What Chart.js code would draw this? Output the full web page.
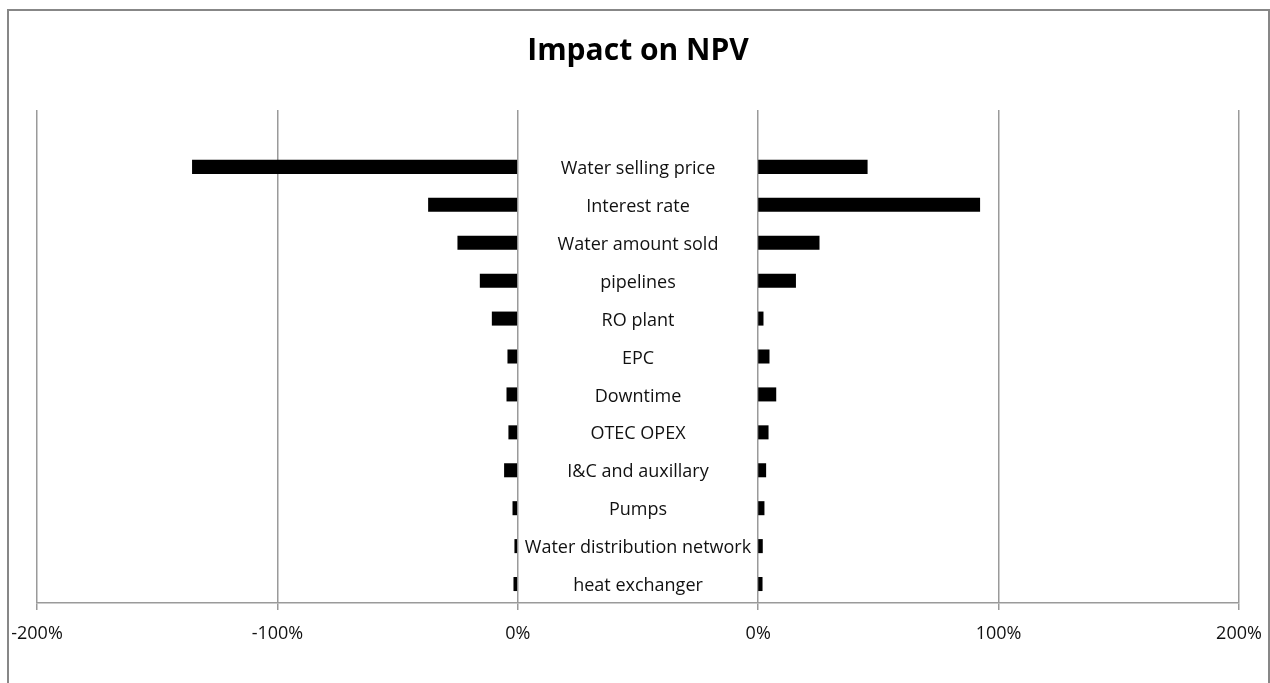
<!DOCTYPE html>
<html>
<head>
<meta charset="utf-8">
<script src="https://cdn.jsdelivr.net/npm/chart.js@4/dist/chart.umd.min.js"></script>
<style>
    html, body { margin: 0; padding: 0; background: #fff; }
    #wrap { position: relative; width: 1270px; height: 683px; overflow: hidden; }
    #frame {
        position: absolute; left: 7px; top: 9px; width: 1259px; height: 700px;
        border: 2px solid #878787; pointer-events: none;
    }
    canvas { position: absolute; left: 0; top: 0; }
</style>
</head>
<body>
<div id="wrap">
    <div id="frame"></div>
    <canvas id="npvChart" width="1270" height="683"></canvas>
</div>
<script>
// Sensitivity of NPV, one row per input (top to bottom)
const categories = [
    'Water selling price',
    'Interest rate',
    'Water amount sold',
    'pipelines',
    'RO plant',
    'EPC',
    'Downtime',
    'OTEC OPEX',
    'I&C and auxillary',
    'Pumps',
    'Water distribution network',
    'heat exchanger'
];

// left panel (%), negative impact
const lowValues = [-135.5, -37.3, -25.1, -15.8, -10.8, -4.3, -4.7, -3.9, -5.7, -2.2, -1.4, -1.8];
// right panel (%), positive impact
const highValues = [45.5, 92.3, 25.5, 15.7, 2.2, 4.7, 7.5, 4.3, 3.3, 2.6, 1.9, 1.8];

const tickLabels = ['-200%', '-100%', '0%', '0%', '100%', '200%'];

const FONT = '"Open Sans", "Noto Sans", sans-serif';

// top row of the plot is left empty, as in the sheet
const rowLabels = [''].concat(categories);

// draws the input names in the gap between the two panels
const centerLabels = {
    id: 'centerLabels',
    afterDatasetsDraw(chart) {
        const { ctx, scales } = chart;
        const cx = (scales.xL.getPixelForValue(0) + scales.xR.getPixelForValue(0)) / 2;
        ctx.save();
        ctx.font = '18px ' + FONT;
        ctx.fillStyle = '#111';
        ctx.textAlign = 'center';
        ctx.textBaseline = 'middle';
        categories.forEach((name, i) => {
            ctx.fillText(name, cx, scales.y.getPixelForValue(i + 1) + 2);
        });
        ctx.restore();
    }
};

const ctx = document.getElementById('npvChart').getContext('2d');
new Chart(ctx, {
    type: 'bar',
    data: {
        labels: rowLabels,
        datasets: [
            {
                label: 'low',
                data: [null].concat(lowValues),
                xAxisID: 'xL',
                backgroundColor: '#000',
                grouped: false,
                barPercentage: 0.37,
                categoryPercentage: 1
            },
            {
                label: 'high',
                data: [null].concat(highValues),
                xAxisID: 'xR',
                backgroundColor: '#000',
                grouped: false,
                barPercentage: 0.37,
                categoryPercentage: 1
            }
        ]
    },
    options: {
        indexAxis: 'y',
        responsive: false,
        animation: false,
        layout: {
            padding: { left: 37, right: 31, top: 10, bottom: 0 }
        },
        scales: {
            y: {
                display: false
            },
            xL: {
                type: 'linear',
                position: 'bottom',
                min: -200,
                max: 300,
                afterBuildTicks: s => {
                    s.ticks = [-200, -100, 0, 100, 200, 300].map(v => ({ value: v }));
                },
                afterFit: s => {
                    s.height = 80;
                    s.paddingLeft = 0;
                    s.paddingRight = 0;
                },
                grid: {
                    color: '#9a9a9a',
                    lineWidth: 1.5,
                    tickLength: 7,
                    tickColor: '#9a9a9a'
                },
                border: { color: '#9a9a9a', width: 1.5 },
                ticks: {
                    padding: 13,
                    color: '#111',
                    font: { family: FONT, size: 18 },
                    callback: (v, i) => tickLabels[i]
                }
            },
            xR: {
                type: 'linear',
                display: false,
                min: -300,
                max: 200
            }
        },
        plugins: {
            legend: { display: false },
            tooltip: { enabled: false },
            title: {
                display: true,
                text: 'Impact on NPV',
                color: '#000',
                font: { family: FONT, size: 30, weight: 'bold' },
                padding: { top: 23, bottom: 41 }
            }
        }
    },
    plugins: [centerLabels]
});
</script>
</body>
</html>
